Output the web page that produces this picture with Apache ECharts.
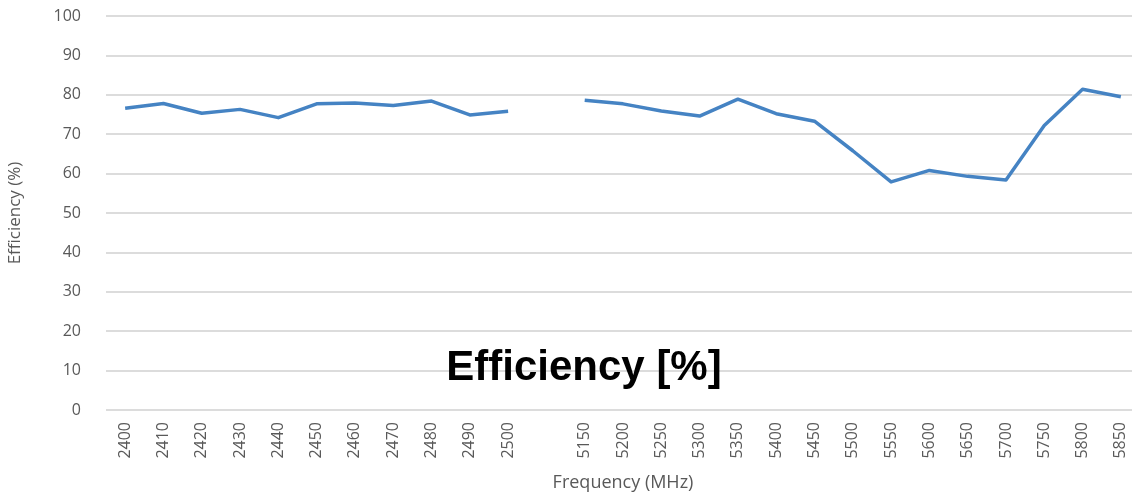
<!DOCTYPE html>
<html>
<head>
<meta charset="utf-8">
<title>Efficiency [%]</title>
<script src="https://cdn.jsdelivr.net/npm/echarts@6/dist/echarts.min.js"></script>
<style>
  html, body { margin: 0; padding: 0; background: #ffffff; }
  #chart { width: 1132px; height: 497px; }
</style>
</head>
<body>
<div id="chart"></div>
<script>
// Frequency points: 2.4 GHz band, one blank slot, then the 5 GHz band
const frequencies = ['2400', '2410', '2420', '2430', '2440', '2450', '2460', '2470', '2480', '2490', '2500',
  '',
  '5150', '5200', '5250', '5300', '5350', '5400', '5450', '5500', '5550', '5600', '5650', '5700', '5750', '5800', '5850'];

// Measured efficiency in percent (null leaves the gap between bands)
const efficiency = [76.6, 77.8, 75.3, 76.3, 74.2, 77.7, 77.9, 77.3, 78.4, 74.9, 75.8,
  null,
  78.6, 77.7, 75.9, 74.6, 78.9, 75.2, 73.3, 65.8, 57.9, 60.8, 59.3, 58.4, 72.2, 81.4, 79.5];

const yTicks = { min: 0, max: 100, step: 10 };

const chart = echarts.init(document.getElementById('chart'), null, { renderer: 'canvas' });

const labelFont = 'Open Sans';
const labelColor = '#595959';

chart.setOption({
  animation: false,
  backgroundColor: '#ffffff',
  grid: {
    left: 106,
    top: 16,
    width: 1034,
    height: 394,
    outerBoundsMode: 'none'
  },
  graphic: [{
    type: 'text',
    z: 100,
    x: 584,
    y: 368,
    style: {
      text: 'Efficiency [%]',
      fontFamily: 'Liberation Sans',
      fontWeight: 'bold',
      fontSize: 42,
      fill: '#000000',
      align: 'center',
      verticalAlign: 'middle'
    }
  }],
  xAxis: {
    type: 'category',
    data: frequencies,
    boundaryGap: true,
    name: 'Frequency (MHz)',
    nameLocation: 'middle',
    nameGap: 64,
    nameTextStyle: { fontFamily: labelFont, fontSize: 18, color: labelColor },
    axisLine: { show: false },
    axisTick: { show: false },
    axisLabel: {
      interval: 0,
      rotate: 90,
      margin: 12,
      fontFamily: labelFont,
      fontSize: 16,
      color: labelColor
    },
    splitLine: { show: false }
  },
  yAxis: {
    type: 'value',
    min: yTicks.min,
    max: yTicks.max,
    interval: yTicks.step,
    name: 'Efficiency (%)',
    nameLocation: 'middle',
    nameGap: 82,
    nameRotate: 90,
    nameTextStyle: { fontFamily: labelFont, fontSize: 17, color: labelColor },
    axisLine: { show: false },
    axisTick: { show: false },
    axisLabel: {
      margin: 25,
      fontFamily: labelFont,
      fontSize: 16,
      color: labelColor
    },
    splitLine: { lineStyle: { color: '#dcdcdc', width: 2 } }
  },
  series: [{
    type: 'line',
    data: efficiency,
    connectNulls: false,
    symbol: 'none',
    lineStyle: { color: '#4583c3', width: 3.5, join: 'round' },
    itemStyle: { color: '#4583c3' }
  }]
});
</script>
</body>
</html>
